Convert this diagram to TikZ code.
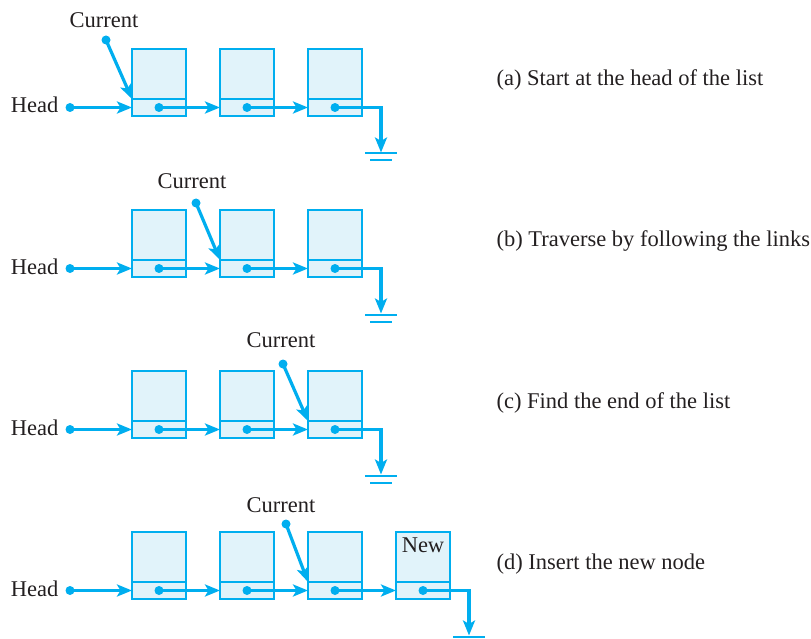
\documentclass[tikz,border=0pt]{standalone}
\usepackage{fontspec}
\setmainfont{Liberation Serif}
\usetikzlibrary{arrows.meta, positioning}
\definecolor{linkblue}{RGB}{0,174,239}
\definecolor{cellfill}{RGB}{225,243,250}
\definecolor{inkgray}{RGB}{35,31,32}

\begin{document}
\begin{tikzpicture}[
  x=1pt, y=-1pt,
  node distance=34pt,
  cell/.style={rectangle, draw=linkblue, fill=cellfill, line width=1.2pt, outer sep=0pt,
               minimum width=54pt, minimum height=50pt, inner sep=0pt},
  linkcell/.style={cell, minimum height=17pt},
  dot/.style={circle, fill=linkblue, inner sep=0pt, minimum size=9pt},
  ptr/.style={-{Stealth[length=15pt, width=12pt, inset=3.5pt]}, line width=3.2pt, linkblue},
  gnd/.style={line width=2pt, linkblue},
  lbl/.style={font=\fontsize{22.5}{27}\selectfont, text=inkgray},
]
\useasboundingbox (0,0) rectangle (811,639);

% (a) start at the head
\node[cell] (a1) at (159,74) {};
\node[linkcell, below=0pt of a1] (a1l) {};
\node[cell, right=of a1] (a2) {};
\node[linkcell, below=0pt of a2] (a2l) {};
\node[cell, right=of a2] (a3) {};
\node[linkcell, below=0pt of a3] (a3l) {};
\node[dot] (a1d) at (a1l) {};
\node[dot] (a2d) at (a2l) {};
\node[dot] (a3d) at (a3l) {};
\node[dot] (hdA) at (70,0 |- a1l) {};
\node[lbl, anchor=base east] (headA) at (62,113) {Head};
\coordinate[below right=45pt and 46pt of a3d.center] (gA);
\node[dot] (cdA) at (106,40) {};
\node[lbl, anchor=base] (curA) at (104,28) {Current};
\node[lbl, anchor=base west] (capA) at (493,86) {(a) Start at the head of the list};

\draw[ptr] (hdA.center) -- (a1l.west);
\draw[ptr] (a1d.center) -- (a2l.west);
\draw[ptr] (a2d.center) -- (a3l.west);
\draw[ptr] (a3d.center) -| (gA);
\draw[gnd] ([xshift=-16pt, yshift=-1pt]gA) -- ++(32,0);
\draw[gnd] ([xshift=-11pt, yshift=-8pt]gA) -- ++(22,0);
\draw[ptr] (cdA.center) -- (a1.south west);

% (b) traverse
\node[cell] (b1) at (159,235) {};
\node[linkcell, below=0pt of b1] (b1l) {};
\node[cell, right=of b1] (b2) {};
\node[linkcell, below=0pt of b2] (b2l) {};
\node[cell, right=of b2] (b3) {};
\node[linkcell, below=0pt of b3] (b3l) {};
\node[dot] (b1d) at (b1l) {};
\node[dot] (b2d) at (b2l) {};
\node[dot] (b3d) at (b3l) {};
\node[dot] (hdB) at (70,0 |- b1l) {};
\node[lbl, anchor=base east] (headB) at (62,274) {Head};
\coordinate[below right=45pt and 46pt of b3d.center] (gB);
\node[dot] (cdB) at (196,203) {};
\node[lbl, anchor=base] (curB) at (192,189) {Current};
\node[lbl, anchor=base west] (capB) at (493,247) {(b) Traverse by following the links};

\draw[ptr] (hdB.center) -- (b1l.west);
\draw[ptr] (b1d.center) -- (b2l.west);
\draw[ptr] (b2d.center) -- (b3l.west);
\draw[ptr] (b3d.center) -| (gB);
\draw[gnd] ([xshift=-16pt, yshift=-1pt]gB) -- ++(32,0);
\draw[gnd] ([xshift=-11pt, yshift=-8pt]gB) -- ++(22,0);
\draw[ptr] (cdB.center) -- (b2.south west);

% (c) find the end
\node[cell] (c1) at (159,396) {};
\node[linkcell, below=0pt of c1] (c1l) {};
\node[cell, right=of c1] (c2) {};
\node[linkcell, below=0pt of c2] (c2l) {};
\node[cell, right=of c2] (c3) {};
\node[linkcell, below=0pt of c3] (c3l) {};
\node[dot] (c1d) at (c1l) {};
\node[dot] (c2d) at (c2l) {};
\node[dot] (c3d) at (c3l) {};
\node[dot] (hdC) at (70,0 |- c1l) {};
\node[lbl, anchor=base east] (headC) at (62,435) {Head};
\coordinate[below right=45pt and 46pt of c3d.center] (gC);
\node[dot] (cdC) at (283,364) {};
\node[lbl, anchor=base] (curC) at (281,347) {Current};
\node[lbl, anchor=base west] (capC) at (493,408) {(c) Find the end of the list};

\draw[ptr] (hdC.center) -- (c1l.west);
\draw[ptr] (c1d.center) -- (c2l.west);
\draw[ptr] (c2d.center) -- (c3l.west);
\draw[ptr] (c3d.center) -| (gC);
\draw[gnd] ([xshift=-16pt, yshift=-1pt]gC) -- ++(32,0);
\draw[gnd] ([xshift=-11pt, yshift=-8pt]gC) -- ++(22,0);
\draw[ptr] (cdC.center) -- (c3.south west);

% (d) insert the new node
\node[cell] (d1) at (159,557) {};
\node[linkcell, below=0pt of d1] (d1l) {};
\node[cell, right=of d1] (d2) {};
\node[linkcell, below=0pt of d2] (d2l) {};
\node[cell, right=of d2] (d3) {};
\node[linkcell, below=0pt of d3] (d3l) {};
\node[cell, right=of d3] (d4) {};
\node[linkcell, below=0pt of d4] (d4l) {};
\node[lbl, below=2pt of d4.north] (newD) {New};
\node[dot] (d1d) at (d1l) {};
\node[dot] (d2d) at (d2l) {};
\node[dot] (d3d) at (d3l) {};
\node[dot] (d4d) at (d4l) {};
\node[dot] (hdD) at (70,0 |- d1l) {};
\node[lbl, anchor=base east] (headD) at (62,596) {Head};
\coordinate[below right=45pt and 46pt of d4d.center] (gD);
\node[dot] (cdD) at (286,524) {};
\node[lbl, anchor=base] (curD) at (281,512) {Current};
\node[lbl, anchor=base west] (capD) at (493,569) {(d) Insert the new node};

\draw[ptr] (hdD.center) -- (d1l.west);
\draw[ptr] (d1d.center) -- (d2l.west);
\draw[ptr] (d2d.center) -- (d3l.west);
\draw[ptr] (d3d.center) -- (d4l.west);
\draw[ptr] (d4d.center) -| (gD);
\draw[gnd] ([xshift=-16pt, yshift=-1pt]gD) -- ++(32,0);
\draw[gnd] ([xshift=-11pt, yshift=-8pt]gD) -- ++(22,0);
\draw[ptr] (cdD.center) -- (d3.south west);

\end{tikzpicture}
\end{document}
